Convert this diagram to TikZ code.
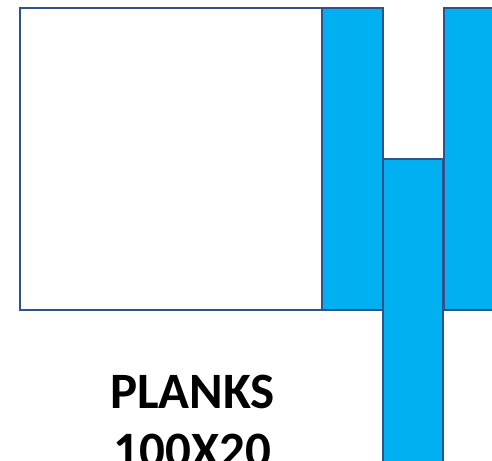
\documentclass[tikz,border=0pt]{standalone}
\usepackage{fontspec}
\setmainfont{Carlito}
\definecolor{bordure}{HTML}{2F528F}
\definecolor{planche}{HTML}{00B0F0}
\begin{document}
\begin{tikzpicture}[x=1pt,y=-1pt]
\tikzset{plank/.style={draw=bordure,line width=2.5pt,fill=planche},
  legende/.style={anchor=base,font=\fontsize{51}{60}\selectfont\bfseries}}

\useasboundingbox (0,0) rectangle (492,460);
\clip (0,0) rectangle (492,460);

% Panneau
\draw[draw=bordure,line width=2.5pt,fill=white] (20,8) rectangle (322,310);

% Planches
\draw[plank] (322,8) rectangle (383,310);
\draw[plank] (383,159) rectangle (443,475);
\draw[plank] (444,8) rectangle (505,310);

% Légende
\node[legende] (titre) at (192.5,408) {PLANKS};
\node[legende] (dim) at (192.5,467) {100X20};

\end{tikzpicture}
\end{document}
